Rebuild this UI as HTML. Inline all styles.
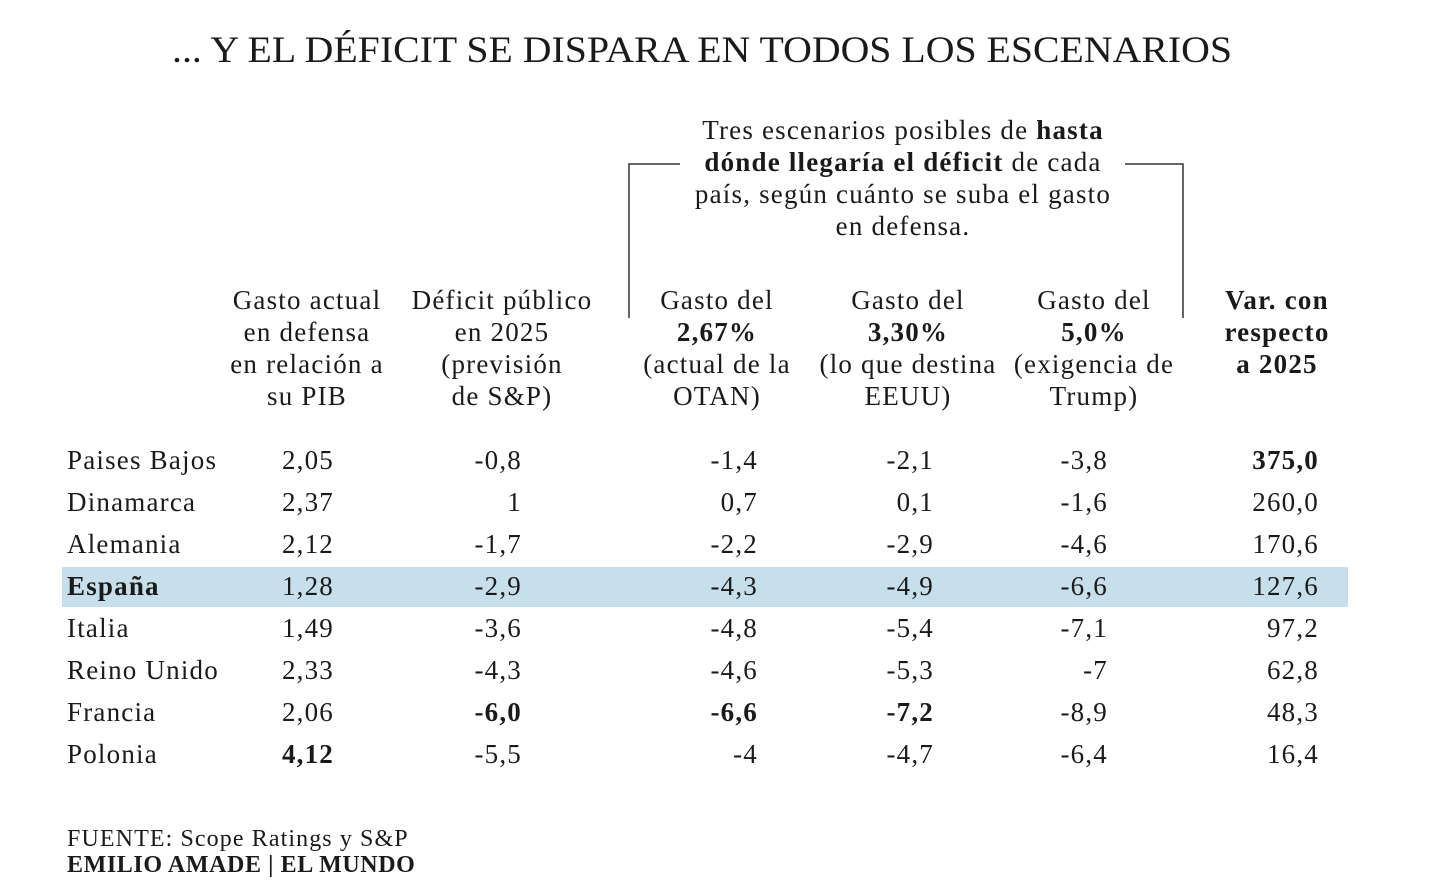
<!DOCTYPE html>
<html><head><meta charset="utf-8">
<style>
html,body{margin:0;padding:0;background:#fff;}
svg{display:block;}
text{font-family:"Liberation Serif",serif;fill:#1a1a1a;}
</style></head>
<body>
<svg id="chart" width="1434" height="880" viewBox="0 0 1434 880" xmlns="http://www.w3.org/2000/svg">
<text x="702" y="62" text-anchor="middle" font-size="37" textLength="1060" lengthAdjust="spacingAndGlyphs">... Y EL DÉFICIT SE DISPARA EN TODOS LOS ESCENARIOS</text>
<g font-size="27" letter-spacing="1.2" text-anchor="middle">
<text x="903" y="139">Tres escenarios posibles de <tspan font-weight="bold">hasta</tspan></text>
<text x="903" y="171"><tspan font-weight="bold">dónde llegaría el déficit</tspan> de cada</text>
<text x="903" y="203">país, según cuánto se suba el gasto</text>
<text x="903" y="235">en defensa.</text>
</g>
<path d="M629,318 V164 H680 M1125,164 H1183 V318" fill="none" stroke="#333" stroke-width="1.5"/>
<rect x="62" y="567" width="1286" height="40" fill="#c7dfeb"/>
<g id="headers" font-size="27" letter-spacing="1.2" text-anchor="middle"></g>
<g id="rows" font-size="27" letter-spacing="1.2"></g>
<text x="67" y="846" font-size="24" letter-spacing="1.1">FUENTE: Scope Ratings y S&amp;P</text>
<text x="67" y="872" font-size="24" letter-spacing="0.6" font-weight="bold">EMILIO AMADE | EL MUNDO</text>
</svg>
<script>
const countries = ["Paises Bajos","Dinamarca","Alemania","España","Italia","Reino Unido","Francia","Polonia"];
const gastoActual = ["2,05","2,37","2,12","1,28","1,49","2,33","2,06","4,12"];
const deficit2025 = ["-0,8","1","-1,7","-2,9","-3,6","-4,3","-6,0","-5,5"];
const esc267 = ["-1,4","0,7","-2,2","-4,3","-4,8","-4,6","-6,6","-4"];
const esc330 = ["-2,1","0,1","-2,9","-4,9","-5,4","-5,3","-7,2","-4,7"];
const esc500 = ["-3,8","-1,6","-4,6","-6,6","-7,1","-7","-8,9","-6,4"];
const varRespecto = ["375,0","260,0","170,6","127,6","97,2","62,8","48,3","16,4"];
const boldCells = {"0-7":1,"1-6":1,"2-6":1,"3-6":1,"5-0":1};
const NS="http://www.w3.org/2000/svg";
const cols=[gastoActual,deficit2025,esc267,esc330,esc500,varRespecto];
const colRight=[334,522,758,934,1108,1319];
const colNames=["gasto-actual","deficit-2025","escenario-267","escenario-330","escenario-500","variacion-2025"];
const headers=[
 [["Gasto actual"],["en defensa"],["en relación a"],["su PIB"]],
 [["Déficit público"],["en 2025"],["(previsión"],["de S&P)"]],
 [["Gasto del"],["2,67%",1],["(actual de la"],["OTAN)"]],
 [["Gasto del"],["3,30%",1],["(lo que destina"],["EEUU)"]],
 [["Gasto del"],["5,0%",1],["(exigencia de"],["Trump)"]],
 [["Var. con",1],["respecto",1],["a  2025",1]]
];
const headX=[307,502,717,908,1094,1277];
const hg=document.getElementById('headers');
headers.forEach((h,i)=>{
  h.forEach((ln,j)=>{
    const t=document.createElementNS(NS,'text');
    
    
    t.setAttribute('x',headX[i]);t.setAttribute('y',309+j*32);
    if(ln[1])t.setAttribute('font-weight','bold');
    t.textContent=ln[0];hg.appendChild(t);
  });
});
const rg=document.getElementById('rows');
countries.forEach((c,r)=>{
  const y=469+r*42;
  const t=document.createElementNS(NS,'text');
  
  
  t.setAttribute('x',67);t.setAttribute('y',y);
  if(c==="España")t.setAttribute('font-weight','bold');
  t.textContent=c;rg.appendChild(t);
  cols.forEach((arr,ci)=>{
    const v=document.createElementNS(NS,'text');
    
    
    v.setAttribute('x',colRight[ci]);v.setAttribute('y',y);
    v.setAttribute('text-anchor','end');
    if(boldCells[ci+"-"+r])v.setAttribute('font-weight','bold');
    v.textContent=arr[r];rg.appendChild(v);
  });
});
</script>
</body></html>
